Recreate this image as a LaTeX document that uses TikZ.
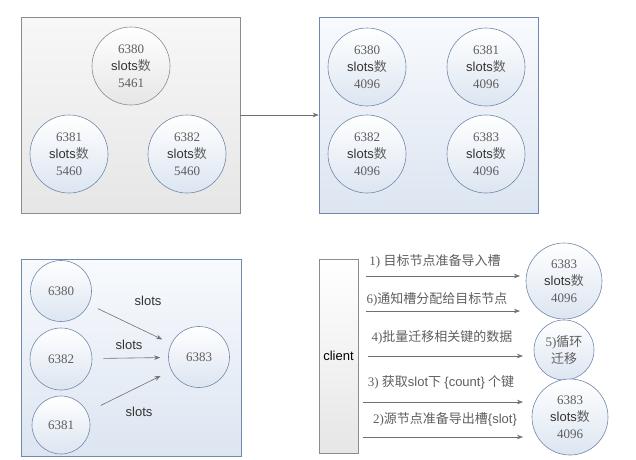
\documentclass[tikz,border=0pt]{standalone}
\usepackage{fontspec}
\setmainfont{Liberation Serif}
\setsansfont{Liberation Sans}
\newfontfamily\cjk{Noto Sans CJK SC}
\usetikzlibrary{arrows.meta}

\definecolor{graybd}{HTML}{8C8C8C}
\definecolor{bluebd}{HTML}{7189AB}
\definecolor{bluetop}{HTML}{F8FAFD}
\definecolor{bluebot}{HTML}{DCE5F1}
\definecolor{graybot}{HTML}{E6E6E6}
\definecolor{numtxt}{HTML}{5E5E5E}
\definecolor{arrowc}{HTML}{707070}

\newcommand{\slotsnum}{{\sffamily\color{black!80}slots}{\cjk 数}}

\tikzset{
  graypanel/.style={draw=graybd,top color=white!97!black,bottom color=graybot,
    minimum width=219pt,minimum height=196pt,inner sep=0pt},
  bluepanel/.style={draw=bluebd,top color=bluetop,bottom color=bluebot,
    minimum width=219pt,minimum height=196pt,inner sep=0pt},
  server/.style={circle,draw=bluebd,top color=white,bottom color=bluebot,
    minimum size=#1,inner sep=0pt,align=center,text=numtxt,
    font=\fontsize{13}{17}\selectfont},
  server/.default=78pt,
  flow/.style={->,draw=arrowc},
  steplabel/.style={text=numtxt,font=\fontsize{13}{15}\selectfont,inner sep=1pt},
  slotslabel/.style={font=\sffamily\fontsize{13}{15}\selectfont,text=black!80}
}

\begin{document}
\begin{tikzpicture}[x=1pt,y=-1pt,>={Stealth[length=6pt,width=4.5pt]},line width=0.6pt]
\useasboundingbox (0,0) rectangle (636,459);

% before: three masters
\node[graypanel] (before) at (130.5,115) {};
\node[server,draw=graybd,top color=white,bottom color=graybot] (b380) at (131,66) {6380\\\slotsnum\\5461};
\node[server] (b381) at (69,154) {6381\\\slotsnum\\5460};
\node[server] (b382) at (187,154) {6382\\\slotsnum\\5460};

% after: four masters
\node[bluepanel] (after) at (428.5,115) {};
\node[server] (a380) at (367,67) {6380\\\slotsnum\\4096};
\node[server] (a381) at (486,67) {6381\\\slotsnum\\4096};
\node[server] (a382) at (367,154) {6382\\\slotsnum\\4096};
\node[server] (a383) at (486,154) {6383\\\slotsnum\\4096};

\draw[flow] (before) -- (after);

% slots moving to the new node
\node[bluepanel,minimum width=220pt,minimum height=197pt] (move) at (131,357.5) {};
\node[server=61pt] (m380) at (61,291) {6380};
\node[server=62pt] (m382) at (61,359) {6382};
\node[server=58pt] (m381) at (61,425) {6381};
\node[server=61pt] (m383) at (199,357) {6383};
\draw[flow,shorten <=10pt,shorten >=10pt] (m380) -- (m383);
\draw[flow,shorten <=11pt,shorten >=8pt] (m382) -- (m383);
\draw[flow,shorten <=15pt,shorten >=12pt] (m381) -- (m383);
\node[slotslabel] (s1) at (148,301) {slots};
\node[slotslabel] (s2) at (129,345) {slots};
\node[slotslabel] (s3) at (139,412) {slots};

% migration steps
\node[draw=graybd,top color=white,bottom color=graybot,minimum width=39pt,
  minimum height=194pt,inner sep=0pt,font=\sffamily\fontsize{13}{15}\selectfont] (client) at (338.5,356) {client};
\node[server=76pt] (t383) at (564,281) {6383\\\slotsnum\\4096};
\node[server=60pt] (loop) at (564,350) {5){\cjk 循环}\\{\cjk 迁移}};
\node[server=76pt] (src) at (570,417) {6383\\\slotsnum\\4096};

\coordinate (a1) at (366,276); \coordinate (z1) at (520,276);
\coordinate (a6) at (366,311); \coordinate (z6) at (520,311);
\coordinate (a4) at (368,356); \coordinate (z4) at (523,356);
\coordinate (a3) at (363,402); \coordinate (z3) at (523,402);
\coordinate (a2) at (363,437); \coordinate (z2) at (523,437);
\draw[flow] (a1) -- (z1);
\draw[flow] (a6) -- (z6);
\draw[flow] (a4) -- (z4);
\draw[flow] (a3) -- (z3);
\draw[flow] (a2) -- (z2);
\node[steplabel] (l1) at (435,261) {1) {\cjk 目标节点准备导入槽}};
\node[steplabel] (l6) at (437,299) {6){\cjk 通知槽分配给目标节点}};
\node[steplabel] (l4) at (442,337) {4){\cjk 批量迁移相关键的数据}};
\node[steplabel] (l3) at (441,382) {3) {\cjk 获取}{\sffamily slot}{\cjk 下} {\sffamily\{count\}} {\cjk 个键}};
\node[steplabel] (l2) at (445,419) {2){\cjk 源节点准备导出槽}{\sffamily\{slot\}}};
\end{tikzpicture}
\end{document}
